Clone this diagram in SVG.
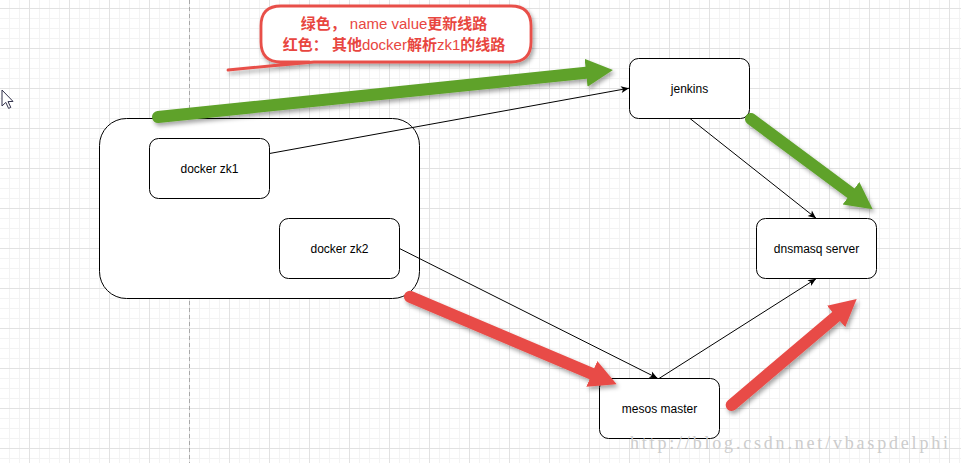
<svg xmlns="http://www.w3.org/2000/svg" width="961" height="463" viewBox="0 0 961 463">
  <defs>
    <pattern id="gMinor" patternUnits="userSpaceOnUse" width="10" height="10">
      <path d="M9.5,0 V10 M0,8.5 H10" stroke="#f3f3f3" stroke-width="1" fill="none"/>
    </pattern>
    <pattern id="gMajor" patternUnits="userSpaceOnUse" width="40" height="40">
      <path d="M29.5,0 V40 M0,8.5 H40" stroke="#e2e2e2" stroke-width="1" fill="none"/>
    </pattern>
    <filter id="sh" filterUnits="userSpaceOnUse" x="0" y="0" width="961" height="463">
      <feDropShadow dx="2" dy="3" stdDeviation="2" flood-color="#000" flood-opacity="0.35"/>
    </filter>
    <marker id="arrThin" markerUnits="userSpaceOnUse" markerWidth="10" markerHeight="10" viewBox="0 0 10 10" refX="9" refY="5" orient="auto">
      <path d="M1,1.5 L9,5 L1,8.5 L3,5 Z" fill="#000"/>
    </marker>
    <marker id="headGreen" markerUnits="userSpaceOnUse" markerWidth="28" markerHeight="32" viewBox="0 0 28 32" refX="0" refY="16" orient="auto">
      <path d="M0,2 L27,16 L0,30 Z" fill="#5fa22b"/>
    </marker>
    <marker id="headRed" markerUnits="userSpaceOnUse" markerWidth="28" markerHeight="32" viewBox="0 0 28 32" refX="0" refY="16" orient="auto">
      <path d="M0,2 L27,16 L0,30 Z" fill="#e84c47"/>
    </marker>
    <style>
      .node rect { fill: #ffffff; stroke: #000000; stroke-width: 1; }
      .lbl { font-family: "Liberation Sans", Arial, sans-serif; font-size: 12px; fill: #000; text-anchor: middle; }
      .thin { stroke: #000; stroke-width: 1; fill: none; marker-end: url(#arrThin); }
      .fat { stroke-width: 12; stroke-linecap: round; fill: none; }
      .green { stroke: #5fa22b; marker-end: url(#headGreen); }
      .red { stroke: #e84c47; marker-end: url(#headRed); }
      .note { font-family: "Liberation Sans", "Noto Sans CJK SC", sans-serif; font-size: 15px; fill: #e8463f; text-anchor: middle; }
      .cjk { font-weight: bold; }
    </style>
  </defs>

  <!-- background grid -->
  <rect x="0" y="0" width="961" height="463" fill="#ffffff"/>
  <rect x="0" y="0" width="961" height="463" fill="url(#gMinor)"/>
  <rect x="0" y="0" width="961" height="463" fill="url(#gMajor)"/>
  <line x1="189.5" y1="0" x2="189.5" y2="463" stroke="#a8a8a8" stroke-width="1" stroke-dasharray="4 3"/>

  <!-- mouse cursor -->
  <path d="M2,90 V106 L5.8,102.4 L8.6,108.4 L10.8,107.4 L8,101.6 L13,101.4 Z" fill="#ffffff" stroke="#30304a" stroke-width="1" stroke-linejoin="round"/>

  <!-- container -->
  <g id="container">
    <rect x="99.5" y="118.5" width="320" height="180" rx="27" ry="27" fill="#ffffff" stroke="#000" stroke-width="1"/>
  </g>

  <g id="docker-zk1" class="node">
    <rect x="149.5" y="138.5" width="120" height="60" rx="9" ry="9"/>
    <text class="lbl" x="209.5" y="172.5">docker zk1</text>
  </g>
  <g id="docker-zk2" class="node">
    <rect x="279.5" y="218.5" width="120" height="60" rx="9" ry="9"/>
    <text class="lbl" x="339.5" y="252.5">docker zk2</text>
  </g>
  <g id="jenkins" class="node">
    <rect x="629.5" y="58.5" width="120" height="60" rx="9" ry="9"/>
    <text class="lbl" x="689.5" y="92.5">jenkins</text>
  </g>
  <g id="dnsmasq" class="node">
    <rect x="756.5" y="218.5" width="120" height="60" rx="9" ry="9"/>
    <text class="lbl" x="816.5" y="252.5">dnsmasq server</text>
  </g>
  <g id="mesos" class="node">
    <rect x="599.5" y="378.5" width="120" height="60" rx="9" ry="9"/>
    <text class="lbl" x="659.5" y="412.5">mesos master</text>
  </g>

  <!-- connectors -->
  <g id="connectors">
    <line class="thin" x1="269.5" y1="153.5" x2="629" y2="88.2"/>
    <line class="thin" x1="690" y1="118.5" x2="816" y2="218.2"/>
    <line class="thin" x1="399.5" y1="248.5" x2="657.5" y2="378.2"/>
    <line class="thin" x1="659" y1="378.5" x2="816" y2="278.8"/>
  </g>

  <!-- highlighted routes -->
  <g id="routes" filter="url(#sh)">
    <line class="fat green" x1="158" y1="117" x2="586.1" y2="72.8"/>
    <line class="fat green" x1="751" y1="119" x2="851" y2="193.2"/>
    <line class="fat red" x1="410" y1="296.7" x2="591.8" y2="373.8"/>
    <line class="fat red" x1="731.7" y1="405" x2="836.1" y2="316.5"/>
  </g>

  <!-- callout -->
  <g id="callout">
    <path d="M281,6 H511 Q531,6 531,26 V42 Q531,62 511,62 H314 L228,70 L309,62 H281 Q261,62 261,42 V26 Q261,6 281,6 Z" fill="#ffffff" stroke="#e8504a" stroke-width="2.8" stroke-linejoin="round" filter="url(#sh)"/>
    <text class="note" x="394" y="29"><tspan class="cjk">绿色，</tspan> name value<tspan class="cjk">更新线路</tspan></text>
    <text class="note" x="394" y="50"><tspan class="cjk">红色：</tspan> <tspan class="cjk">其他</tspan>docker<tspan class="cjk">解析</tspan>zk1<tspan class="cjk">的线路</tspan></text>
  </g>

  <!-- watermark -->
  <text x="630" y="449" font-family="'Liberation Serif', serif" font-size="18" fill="#cccccc" textLength="318" lengthAdjust="spacing">http://blog.csdn.net/vbaspdelphi</text>
</svg>
